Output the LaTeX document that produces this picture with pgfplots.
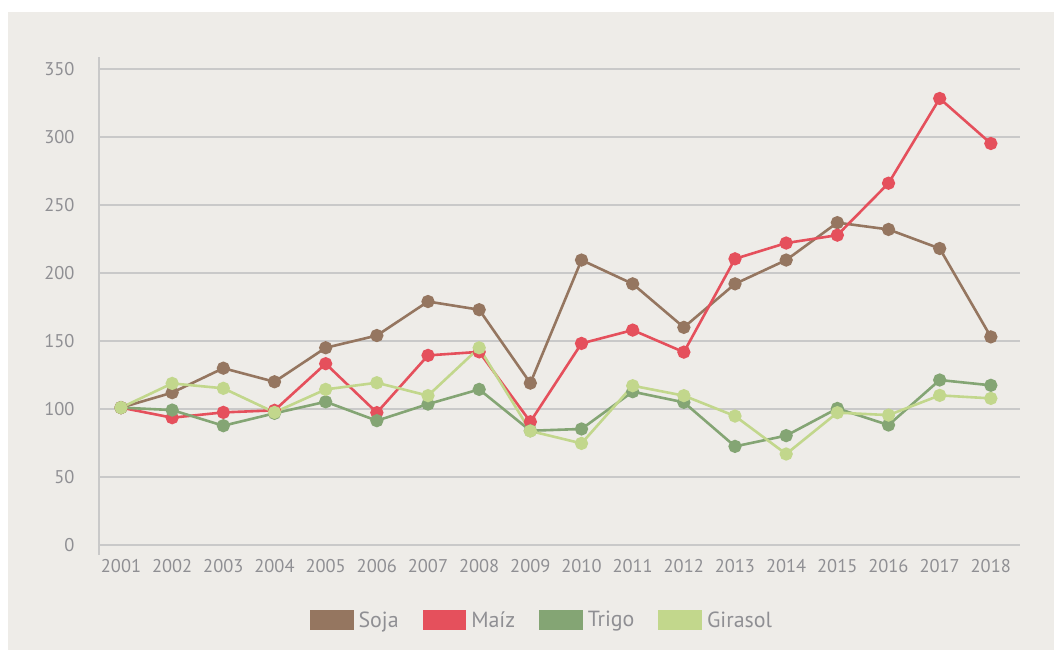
\documentclass[border=0pt]{standalone}
\usepackage{pgfplots}
\pgfplotsset{compat=1.18}
\usepackage{fontspec}
\setmainfont{PT Sans}
\definecolor{bg}{HTML}{EEECE8}
\definecolor{gridc}{HTML}{C9C9C9}
\definecolor{txt}{HTML}{8F8F93}
\definecolor{soja}{HTML}{957660}
\definecolor{maiz}{HTML}{E5505C}
\definecolor{trigo}{HTML}{84A574}
\definecolor{girasol}{HTML}{C2D78C}
\begin{document}
\begin{tikzpicture}[x=1bp,y=1bp]
\fill[white] (0,0) rectangle (1054,650);
\fill[bg] (8,0) rectangle (1054,638);
\begin{axis}[
  at={(99bp,95bp)}, anchor=south west,
  scale only axis, width=921bp, height=498bp,
  xmin=2000.57, xmax=2018.57, ymin=-7.35, ymax=358.8,
  axis x line*=bottom,
  axis y line*=left,
  x axis line style={draw=none, -},
  y axis line style={draw=gridc, line width=1.2bp, -},
  ytick={0,50,...,350},
  xtick={2001,...,2018},
  xticklabels={2001,2002,2003,2004,2005,2006,2007,2008,2009,2010,2011,2012,2013,2014,2015,2016,2017,2018},
  ymajorgrids, xmajorgrids=false,
  major grid style={draw=gridc, line width=1.2bp},
  major tick length=0pt,
  yticklabel style={font=\fontsize{18.5}{20}\selectfont, text=txt, xshift=-21bp},
  xticklabel style={font=\fontsize{18.5}{20}\selectfont, text=txt, yshift=-1bp},
  /pgf/number format/assume math mode=true,
  every mark/.append style={solid},
  legend columns=4,
  legend style={draw=none, fill=none, at={(0.481,-0.1305)}, anchor=center,
    font=\fontsize{22}{24}\selectfont, text=txt,
    /tikz/every even column/.append style={column sep=22bp}},
  legend cell align=left,
]
\addplot[soja, line width=2.6bp, mark=*, mark size=5.3bp,
  legend image code/.code={\fill[soja] (0bp,-9bp) rectangle (41bp,9bp); \path (44bp,0bp);}]
coordinates {(2001,101)(2002,112)(2003,130)(2004,120)(2005,145)(2006,154)(2007,179)(2008,173)(2009,119)(2010,209.5)(2011,192)(2012,160)(2013,192)(2014,209.5)(2015,237)(2016,232)(2017,218)(2018,153)};
\addlegendentry{Soja}
\addplot[maiz, line width=2.6bp, mark=*, mark size=5.3bp,
  legend image code/.code={\fill[maiz] (0bp,-9bp) rectangle (41bp,9bp); \path (44bp,0bp);}]
coordinates {(2001,101)(2002,93.6)(2003,97.5)(2004,99)(2005,133.3)(2006,97.3)(2007,139.4)(2008,142)(2009,90.6)(2010,148.2)(2011,158)(2012,141.8)(2013,210.4)(2014,222)(2015,227.8)(2016,266)(2017,328.3)(2018,295.2)};
\addlegendentry{Maíz}
\addplot[trigo, line width=2.6bp, mark=*, mark size=5.3bp,
  legend image code/.code={\fill[trigo] (0bp,-9bp) rectangle (41bp,9bp); \path (44bp,0bp);}]
coordinates {(2001,101)(2002,99.2)(2003,87.7)(2004,96.8)(2005,105.3)(2006,91.4)(2007,103.6)(2008,114.4)(2009,84)(2010,85.3)(2011,112.7)(2012,104.9)(2013,72.5)(2014,80.4)(2015,100.4)(2016,88.2)(2017,121.3)(2018,117.4)};
\addlegendentry{Trigo}
\addplot[girasol, line width=2.6bp, mark=*, mark size=5.3bp,
  legend image code/.code={\fill[girasol] (0bp,-9bp) rectangle (41bp,9bp); \path (44bp,0bp);}]
coordinates {(2001,101)(2002,118.8)(2003,115.2)(2004,97.5)(2005,114.4)(2006,119.3)(2007,109.8)(2008,145)(2009,83.8)(2010,74.7)(2011,117.1)(2012,109.8)(2013,94.8)(2014,66.9)(2015,97.3)(2016,95.5)(2017,110)(2018,107.8)};
\addlegendentry{Girasol}
\end{axis}
\end{tikzpicture}
\end{document}
